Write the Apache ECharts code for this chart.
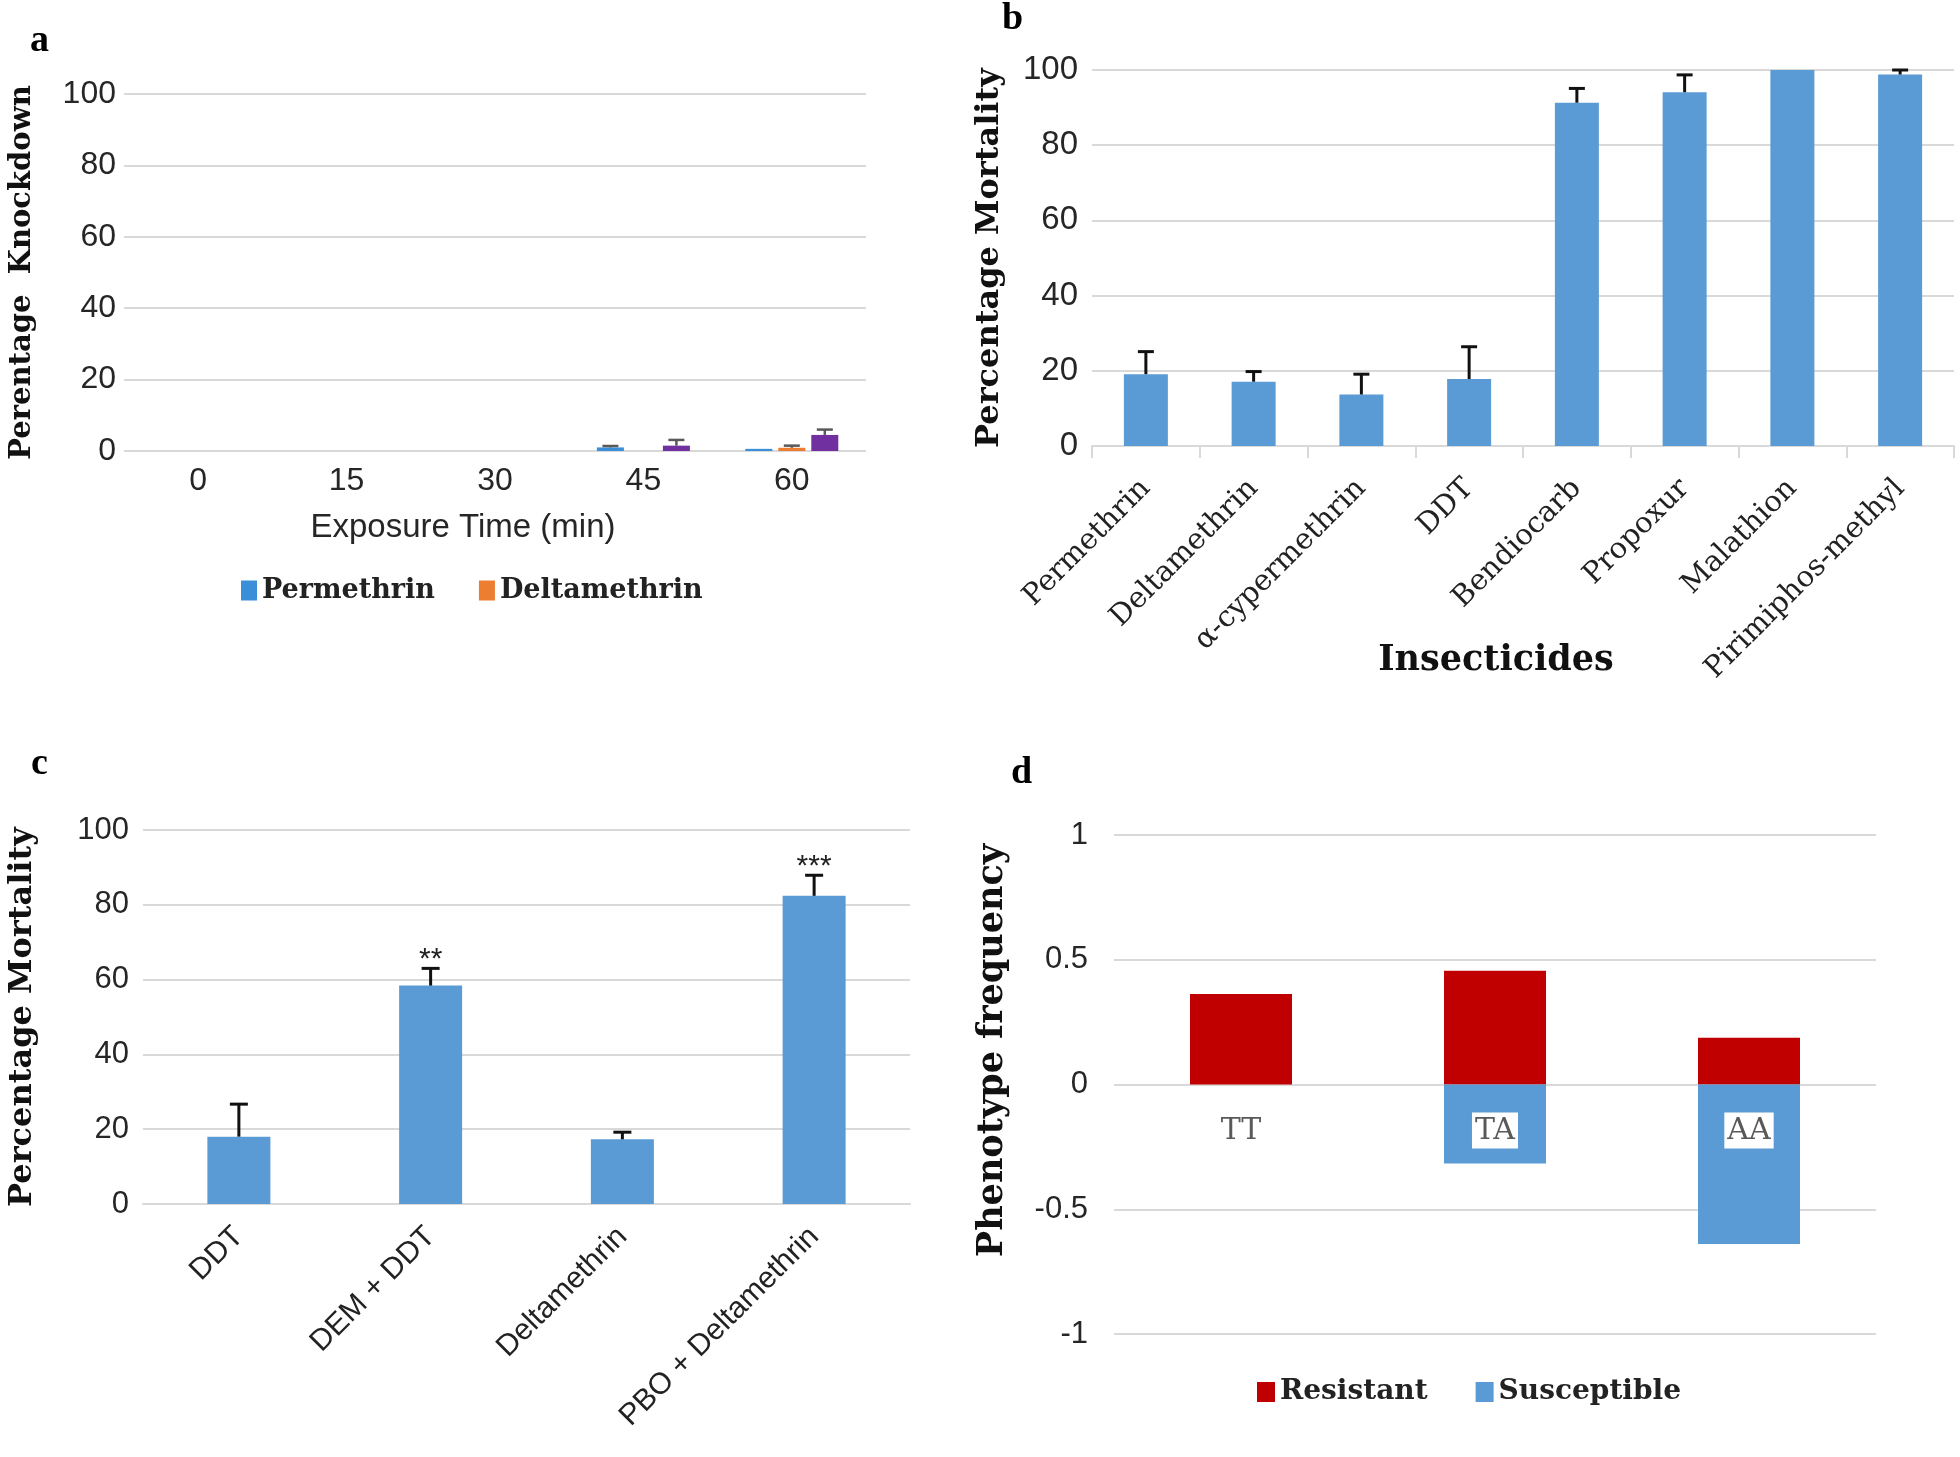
<!DOCTYPE html>
<html>
<head>
<meta charset="utf-8">
<script src="https://cdn.jsdelivr.net/npm/echarts@6/dist/echarts.min.js"></script>
<style>
html,body{margin:0;padding:0;background:#fff;}
#chart{width:1960px;height:1457px;}
</style>
</head>
<body>
<div id="chart"></div>
<script>
// ---------- Panel a: knockdown ----------
const aCategories = ['0', '15', '30', '45', '60'];
const aPermethrin = [0, 0, 0, 1.0, 0.6];
const aPermethrinErr = [0, 0, 0, 0.4, 0];
const aDeltamethrin = [0, 0, 0, 0, 0.9];
const aDeltamethrinErr = [0, 0, 0, 0, 0.6];
const aCypermethrin = [0, 0, 0, 1.5, 4.5];
const aCypermethrinErr = [0, 0, 0, 1.6, 1.5];
const aTicks = [0, 20, 40, 60, 80, 100];

// ---------- Panel b: mortality by insecticide ----------
const bCategories = ['Permethrin', 'Deltamethrin', 'α-cypermethrin', 'DDT', 'Bendiocarb', 'Propoxur', 'Malathion', 'Pirimiphos-methyl'];
const bMortality = [19.1, 17.1, 13.7, 17.8, 91.3, 94.1, 100, 98.8];
const bError = [6.0, 2.7, 5.4, 8.6, 3.8, 4.6, 0, 1.2];

// ---------- Panel c: synergist assays ----------
const cCategories = ['DDT', 'DEM + DDT', 'Deltamethrin', 'PBO + Deltamethrin'];
const cMortality = [18.0, 58.4, 17.3, 82.4];
const cError = [8.7, 4.6, 1.9, 5.5];
const cSignificance = ['', '**', '', '***'];

// ---------- Panel d: phenotype frequency ----------
const dCategories = ['TT', 'TA', 'AA'];
const dResistant = [0.363, 0.456, 0.187];
const dSusceptible = [0, -0.317, -0.639];

const SERIF_BOLD = '"DejaVu Serif", serif';
const SANS = '"Liberation Sans", Arial, sans-serif';
const GRID_COLOR = '#D9D9D9';
const BAR_BLUE = '#5B9BD5';

// panel a bar geometry (style)
const A_BAR_W = 27, A_BAR_GAP = 6;

function makeErr(offsetPx, capHalf, color, lw, annotations, annotFont) {
  return function (params, api) {
    const xi = api.value(0), v = api.value(1), e = api.value(2);
    const base = api.coord([xi, v]);
    const top = api.coord([xi, v + e]);
    const x = base[0] + offsetPx;
    const children = [];
    if (e > 0) {
      children.push({type: 'line', shape: {x1: x, y1: base[1], x2: x, y2: top[1]}, style: {stroke: color, lineWidth: lw}});
      children.push({type: 'line', shape: {x1: x - capHalf, y1: top[1], x2: x + capHalf, y2: top[1]}, style: {stroke: color, lineWidth: lw}});
    }
    const ann = annotations ? annotations[params.dataIndex] : '';
    if (ann) {
      children.push({type: 'text', style: {text: ann, x: x, y: top[1] + 6, align: 'center', verticalAlign: 'bottom', font: annotFont, fill: '#222'}});
    }
    return {type: 'group', children: children};
  };
}
function errData(vals, errs) { return vals.map((v, i) => [i, v, errs[i]]); }

// category labels of panel d sit just below the zero line
function zeroLabel(params, api) {
  const i = api.value(0);
  const p = api.coord([i, 0]);
  return {
    type: 'text',
    style: {
      text: dCategories[params.dataIndex], x: p[0], y: p[1] + 28, align: 'center', verticalAlign: 'top',
      font: '30px "DejaVu Serif", serif', fill: '#595959', backgroundColor: '#fff', padding: [4, 3, 2, 3]
    }
  };
}

const yAxisBase = {
  axisLine: {show: false}, axisTick: {show: false},
  splitLine: {lineStyle: {color: GRID_COLOR, width: 2}},
  axisLabel: {fontFamily: SANS, fontSize: 31, color: '#262626'},
  nameLocation: 'middle', nameRotate: 90,
  nameTextStyle: {fontFamily: SERIF_BOLD, fontWeight: 'bold', color: '#111'}
};

const chart = echarts.init(document.getElementById('chart'), null, {renderer: 'canvas'});
const option = {
  backgroundColor: '#fff',
  animation: false,
  graphic: [
    {type: 'text', left: 30, top: 22, style: {text: 'a', font: 'bold 38px "Liberation Serif", serif', fill: '#000'}},
    {type: 'text', left: 1002, top: 0, style: {text: 'b', font: 'bold 38px "Liberation Serif", serif', fill: '#000'}},
    {type: 'text', left: 31, top: 745, style: {text: 'c', font: 'bold 38px "Liberation Serif", serif', fill: '#000'}},
    {type: 'text', left: 1011, top: 754, style: {text: 'd', font: 'bold 38px "Liberation Serif", serif', fill: '#000'}}
  ],
  legend: [
    {
      data: ['Permethrin', 'Deltamethrin'], left: 236, top: 572, itemWidth: 16, itemHeight: 20, itemGap: 44, icon: 'rect',
      textStyle: {fontFamily: SERIF_BOLD, fontWeight: 'bold', fontSize: 27, color: '#222'}
    },
    {
      data: ['Resistant', 'Susceptible'], left: 1252, top: 1373, itemWidth: 18, itemHeight: 20, itemGap: 48, icon: 'rect',
      textStyle: {fontFamily: SERIF_BOLD, fontWeight: 'bold', fontSize: 28, color: '#222'}
    }
  ],
  grid: [
    {left: 124, top: 94, width: 742, height: 357},
    {left: 1092, top: 70, width: 862, height: 376},
    {left: 143, top: 830, width: 767, height: 374},
    {left: 1114, top: 835, width: 762, height: 499}
  ],
  xAxis: [
    {
      gridIndex: 0, type: 'category', data: aCategories,
      axisLine: {show: false}, axisTick: {show: false},
      axisLabel: {fontFamily: SANS, fontSize: 32, color: '#262626', margin: 14},
      name: 'Exposure Time (min)', nameLocation: 'middle', nameGap: 60,
      nameTextStyle: {fontFamily: SANS, fontSize: 33, color: '#262626', padding: [0, 64, 0, 0]}
    },
    {
      gridIndex: 1, type: 'category', data: bCategories,
      axisLine: {show: true, lineStyle: {color: GRID_COLOR, width: 2}},
      axisTick: {show: true, interval: 0, length: 12, lineStyle: {color: GRID_COLOR, width: 2}},
      axisLabel: {interval: 0, rotate: 45, fontFamily: '"DejaVu Serif", serif', fontSize: 29, color: '#222', margin: 38},
      name: 'Insecticides', nameLocation: 'middle', nameGap: 197, nameMoveOverlap: false,
      nameTextStyle: {fontFamily: SERIF_BOLD, fontWeight: 'bold', fontSize: 35, color: '#111', padding: [0, 54, 0, 0]}
    },
    {
      gridIndex: 2, type: 'category', data: cCategories,
      axisLine: {show: true, lineStyle: {color: GRID_COLOR, width: 2}}, axisTick: {show: false},
      axisLabel: {interval: 0, rotate: 45, fontFamily: SANS, fontSize: 30, color: '#222', margin: 28}
    },
    {
      gridIndex: 3, type: 'category', data: dCategories,
      axisLine: {show: false}, axisTick: {show: false}, axisLabel: {show: false}
    }
  ],
  yAxis: [
    Object.assign({}, yAxisBase, {gridIndex: 0, type: 'value', min: 0, max: 100, interval: 20,
      axisLabel: Object.assign({}, yAxisBase.axisLabel, {fontSize: 32}),
      name: 'Perentage  Knockdown', nameGap: 87, nameTextStyle: Object.assign({}, yAxisBase.nameTextStyle, {fontSize: 29})}),
    Object.assign({}, yAxisBase, {gridIndex: 1, type: 'value', min: 0, max: 100, interval: 20,
      axisLabel: Object.assign({}, yAxisBase.axisLabel, {fontSize: 33, margin: 14}),
      name: 'Percentage Mortality', nameGap: 86, nameTextStyle: Object.assign({}, yAxisBase.nameTextStyle, {fontSize: 32})}),
    Object.assign({}, yAxisBase, {gridIndex: 2, type: 'value', min: 0, max: 100, interval: 20,
      axisLabel: Object.assign({}, yAxisBase.axisLabel, {fontSize: 31, margin: 14}),
      name: 'Percentage Mortality', nameGap: 104, nameTextStyle: Object.assign({}, yAxisBase.nameTextStyle, {fontSize: 32})}),
    Object.assign({}, yAxisBase, {gridIndex: 3, type: 'value', min: -1, max: 1, interval: 0.5,
      axisLabel: Object.assign({}, yAxisBase.axisLabel, {fontSize: 31, margin: 26}),
      name: 'Phenotype frequency', nameGap: 104,
      nameTextStyle: Object.assign({}, yAxisBase.nameTextStyle, {fontSize: 35, padding: [0, 0, 0, 68]})})
  ],
  series: [
    // panel a
    {name: 'Permethrin', type: 'bar', xAxisIndex: 0, yAxisIndex: 0, data: aPermethrin, barWidth: A_BAR_W, barGap: (A_BAR_GAP / A_BAR_W * 100) + '%',
      itemStyle: {color: '#3A8FD8'}},
    {name: 'Deltamethrin', type: 'bar', xAxisIndex: 0, yAxisIndex: 0, data: aDeltamethrin, barWidth: A_BAR_W,
      itemStyle: {color: '#ED7D31'}},
    {name: 'α-cypermethrin', type: 'bar', xAxisIndex: 0, yAxisIndex: 0, data: aCypermethrin, barWidth: A_BAR_W,
      itemStyle: {color: '#7030A0'}},
    {type: 'custom', xAxisIndex: 0, yAxisIndex: 0, data: errData(aPermethrin, aPermethrinErr), z: 5,
      renderItem: makeErr(-(A_BAR_W + A_BAR_GAP), 8, '#595959', 2.5)},
    {type: 'custom', xAxisIndex: 0, yAxisIndex: 0, data: errData(aDeltamethrin, aDeltamethrinErr), z: 5,
      renderItem: makeErr(0, 8, '#595959', 2.5)},
    {type: 'custom', xAxisIndex: 0, yAxisIndex: 0, data: errData(aCypermethrin, aCypermethrinErr), z: 5,
      renderItem: makeErr(A_BAR_W + A_BAR_GAP, 8, '#595959', 2.5)},
    // panel b
    {name: 'Mortality', type: 'bar', xAxisIndex: 1, yAxisIndex: 1, data: bMortality, barWidth: 44, itemStyle: {color: BAR_BLUE}},
    {type: 'custom', xAxisIndex: 1, yAxisIndex: 1, data: errData(bMortality, bError), z: 5,
      renderItem: makeErr(0, 8, '#111', 3)},
    // panel c
    {name: 'Mortality c', type: 'bar', xAxisIndex: 2, yAxisIndex: 2, data: cMortality, barWidth: 63, itemStyle: {color: BAR_BLUE}},
    {type: 'custom', xAxisIndex: 2, yAxisIndex: 2, data: errData(cMortality, cError), z: 5,
      renderItem: makeErr(0, 9, '#111', 3, cSignificance, '30px "Liberation Sans", sans-serif')},
    // panel d
    {name: 'Resistant', type: 'bar', xAxisIndex: 3, yAxisIndex: 3, data: dResistant, barWidth: 102, barGap: '-100%', itemStyle: {color: '#C00000'}},
    {name: 'Susceptible', type: 'bar', xAxisIndex: 3, yAxisIndex: 3, data: dSusceptible, barWidth: 102, itemStyle: {color: BAR_BLUE}},
    {type: 'custom', xAxisIndex: 3, yAxisIndex: 3, data: dCategories.map((c, i) => [i, 0]), z: 10, renderItem: zeroLabel}
  ]
};
chart.setOption(option);
</script>
</body>
</html>
